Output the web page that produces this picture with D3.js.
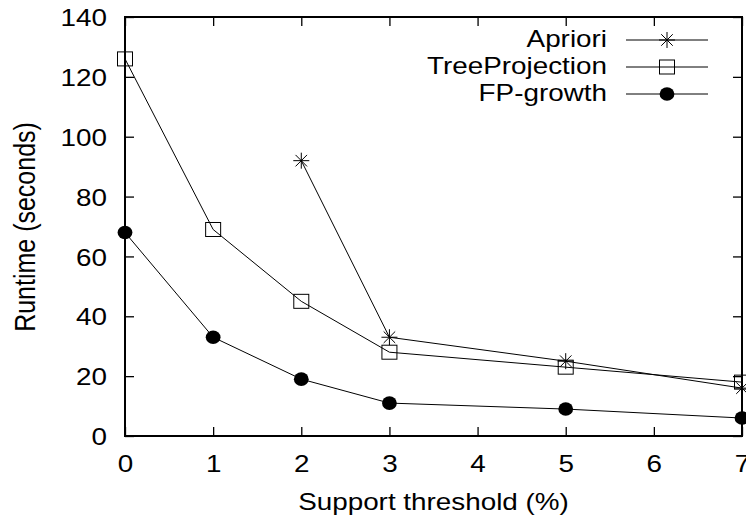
<!DOCTYPE html>
<html>
<head>
<meta charset="utf-8">
<script src="https://cdn.jsdelivr.net/npm/d3@7"></script>
<style>
  body { margin: 0; background: #fff; }
  text { font-family: "Liberation Sans", Arial, sans-serif; fill: #000; }
</style>
</head>
<body>
<div id="chart"></div>
<script>
// values
const seriesNames = ["Apriori", "TreeProjection", "FP-growth"];
const aprioriX = [2, 3, 5, 7];
const aprioriY = [92, 33, 25, 16];
const treeX = [0, 1, 2, 3, 5, 7];
const treeY = [126, 69, 45, 28, 23, 18];
const fpX = [0, 1, 2, 3, 5, 7];
const fpY = [68, 33, 19, 11, 9, 6];
const xTicks = [0, 1, 2, 3, 4, 5, 6, 7];
const yTicks = [0, 20, 40, 60, 80, 100, 120, 140];

const width = 746;
const height = 519;
const plotLeft = 125, plotRight = 742, plotTop = 17, plotBottom = 436;
const fontSize = "24px";
const stretch = 1.16; // text in the original looks widened horizontally

const svg = d3.select("#chart")
    .append("svg")
    .attr("width", width)
    .attr("height", height);

const xScale = d3.scaleLinear().domain([0, 7]).range([plotLeft, plotRight]);
const yScale = d3.scaleLinear().domain([0, 140]).range([plotBottom, plotTop]);

// axes with inward ticks, mirrored on top/right
const xAxis = svg.append("g")
    .attr("transform", `translate(0, ${plotBottom})`)
    .call(d3.axisBottom(xScale).tickValues(xTicks).tickSizeInner(-9).tickSizeOuter(0).tickFormat(d3.format("d")));
xAxis.selectAll(".tick text")
    .attr("y", 36).attr("dy", null)
    .attr("transform", `scale(${stretch},1)`);

svg.append("g")
    .attr("transform", `translate(0, ${plotTop})`)
    .call(d3.axisTop(xScale).tickValues(xTicks).tickSizeInner(-9).tickSizeOuter(0).tickFormat(""));

const yAxis = svg.append("g")
    .attr("transform", `translate(${plotLeft}, 0)`)
    .call(d3.axisLeft(yScale).tickValues(yTicks).tickSizeInner(-9).tickSizeOuter(0));
yAxis.selectAll(".tick text")
    .attr("x", -18 / stretch).attr("dy", "0.36em")
    .attr("transform", `scale(${stretch},1)`);

svg.append("g")
    .attr("transform", `translate(${plotRight}, 0)`)
    .call(d3.axisRight(yScale).tickValues(yTicks).tickSizeInner(-9).tickSizeOuter(0).tickFormat(""));

svg.selectAll(".domain").attr("stroke", "none");
svg.selectAll(".tick line").attr("stroke", "#000").attr("stroke-width", 1.3);
svg.selectAll(".tick text").attr("font-size", fontSize).attr("font-family", "Liberation Sans, Arial, sans-serif").attr("fill", "#000");

// frame
svg.append("rect")
    .attr("x", plotLeft).attr("y", plotTop)
    .attr("width", plotRight - plotLeft).attr("height", plotBottom - plotTop)
    .attr("fill", "none").attr("stroke", "#000").attr("stroke-width", 2);

// axis titles
svg.append("text")
    .attr("transform", `translate(${(plotLeft + plotRight) / 2}, 510) scale(${stretch},1)`)
    .attr("text-anchor", "middle")
    .attr("font-size", fontSize)
    .text("Support threshold (%)");
svg.append("text")
    .attr("transform", `translate(35, 227) scale(${stretch},1) rotate(-90)`)
    .attr("text-anchor", "middle")
    .attr("font-size", "25px")
    .text("Runtime (seconds)");

const line = d3.line().x(d => xScale(d[0])).y(d => yScale(d[1]));

function drawMarker(g, type, x, y) {
    if (type === "star") {
        const rx = 8, ry = 8;
        g.append("path")
            .attr("d", `M${x - rx},${y}H${x + rx}M${x},${y - ry}V${y + ry}M${x - rx * 0.72},${y - ry * 0.72}L${x + rx * 0.72},${y + ry * 0.72}M${x - rx * 0.72},${y + ry * 0.72}L${x + rx * 0.72},${y - ry * 0.72}`)
            .attr("stroke", "#000").attr("stroke-width", 1).attr("fill", "none");
    } else if (type === "box") {
        g.append("rect")
            .attr("x", x - 7.5).attr("y", y - 7)
            .attr("width", 15).attr("height", 14)
            .attr("fill", "none").attr("stroke", "#000").attr("stroke-width", 1);
    } else {
        g.append("ellipse")
            .attr("cx", x).attr("cy", y).attr("rx", 7.4).attr("ry", 6.8)
            .attr("fill", "#000");
    }
}

const series = [
    { name: seriesNames[0], xs: aprioriX, ys: aprioriY, marker: "star" },
    { name: seriesNames[1], xs: treeX, ys: treeY, marker: "box" },
    { name: seriesNames[2], xs: fpX, ys: fpY, marker: "dot" }
];

series.forEach(function (s, i) {
    const pts = s.xs.map((x, k) => [x, s.ys[k]]);
    svg.append("path")
        .attr("d", line(pts))
        .attr("fill", "none")
        .attr("stroke", "#000")
        .attr("stroke-width", 1);
    const g = svg.append("g");
    pts.forEach(p => drawMarker(g, s.marker, xScale(p[0]), yScale(p[1])));

    // legend
    const ly = 40 + i * 27;
    svg.append("text")
        .attr("transform", `translate(607, ${ly + 7}) scale(${stretch},1)`)
        .attr("text-anchor", "end")
        .attr("font-size", fontSize)
        .text(s.name);
    svg.append("line")
        .attr("x1", 626).attr("x2", 708)
        .attr("y1", ly).attr("y2", ly)
        .attr("stroke", "#000").attr("stroke-width", 1);
    drawMarker(svg.append("g"), s.marker, 667, ly);
});
</script>
</body>
</html>
